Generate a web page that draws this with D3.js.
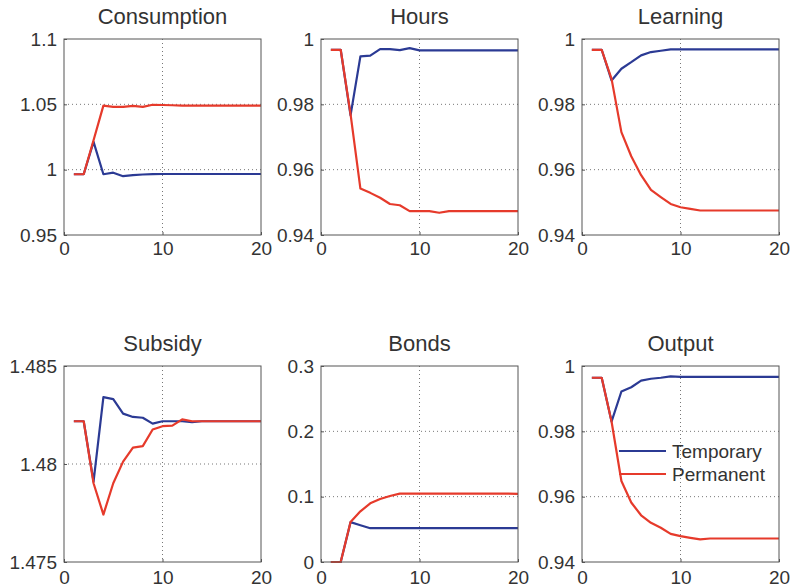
<!DOCTYPE html>
<html>
<head>
<meta charset="utf-8">
<script src="https://cdn.jsdelivr.net/npm/d3@7"></script>
<style>
  html, body { margin: 0; padding: 0; background: #fff; }
  svg { display: block; font-family: "Liberation Sans", Arial, sans-serif; }
</style>
</head>
<body>
<svg id="chart" width="790" height="588"></svg>
<script>
// Periods shown on the horizontal axis
const periods = d3.range(1, 21);
const xTicks = [0, 10, 20];

// Panel titles, in reading order
const titles = ["Consumption", "Hours", "Learning", "Subsidy", "Bonds", "Output"];
const seriesNames = ["Temporary", "Permanent"];

// Vertical ranges and tick labels for each panel
const yDomains = [[0.95, 1.1], [0.94, 1], [0.94, 1], [1.475, 1.485], [0, 0.3], [0.94, 1]];
const yTickValues = [
  [0.95, 1, 1.05, 1.1],
  [0.94, 0.96, 0.98, 1],
  [0.94, 0.96, 0.98, 1],
  [1.475, 1.48, 1.485],
  [0, 0.1, 0.2, 0.3],
  [0.94, 0.96, 0.98, 1]
];
const yTickLabels = [
  ["0.95", "1", "1.05", "1.1"],
  ["0.94", "0.96", "0.98", "1"],
  ["0.94", "0.96", "0.98", "1"],
  ["1.475", "1.48", "1.485"],
  ["0", "0.1", "0.2", "0.3"],
  ["0.94", "0.96", "0.98", "1"]
];

// Responses to a temporary shock, periods 1..20
const consumptionTemp = [0.9965, 0.9965, 1.0213, 0.9965, 0.9977, 0.995, 0.9958, 0.9963, 0.9966, 0.9967, 0.9967, 0.9967, 0.9967, 0.9967, 0.9967, 0.9967, 0.9967, 0.9967, 0.9967, 0.9967];
const hoursTemp = [0.9967, 0.9967, 0.9766, 0.9947, 0.9949, 0.9969, 0.9969, 0.9966, 0.9972, 0.9965, 0.9965, 0.9965, 0.9965, 0.9965, 0.9965, 0.9965, 0.9965, 0.9965, 0.9965, 0.9965];
const learningTemp = [0.9967, 0.9967, 0.9873, 0.9909, 0.9929, 0.995, 0.996, 0.9964, 0.9968, 0.9968, 0.9968, 0.9968, 0.9968, 0.9968, 0.9968, 0.9968, 0.9968, 0.9968, 0.9968, 0.9968];
const subsidyTemp = [1.48218, 1.48218, 1.4791, 1.48341, 1.48331, 1.48257, 1.4824, 1.48236, 1.48206, 1.48218, 1.48218, 1.48218, 1.48214, 1.48218, 1.48218, 1.48218, 1.48218, 1.48218, 1.48218, 1.48218];
const bondsTemp = [0, 0, 0.061, 0.0563, 0.0517, 0.0517, 0.0517, 0.0517, 0.0517, 0.0517, 0.0517, 0.0517, 0.0517, 0.0517, 0.0517, 0.0517, 0.0517, 0.0517, 0.0517, 0.0517];
const outputTemp = [0.9964, 0.9964, 0.983, 0.9922, 0.9935, 0.9955, 0.9961, 0.9964, 0.9968, 0.9967, 0.9967, 0.9967, 0.9967, 0.9967, 0.9967, 0.9967, 0.9967, 0.9967, 0.9967, 0.9967];

// Responses to a permanent shock, periods 1..20
const consumptionPerm = [0.9965, 0.9965, 1.0225, 1.049, 1.048, 1.048, 1.0488, 1.048, 1.0497, 1.0495, 1.0493, 1.049, 1.049, 1.049, 1.049, 1.049, 1.049, 1.049, 1.049, 1.049];
const hoursPerm = [0.9967, 0.9967, 0.977, 0.9542, 0.9529, 0.9514, 0.9495, 0.9491, 0.9473, 0.9473, 0.9473, 0.9468, 0.9473, 0.9473, 0.9473, 0.9473, 0.9473, 0.9473, 0.9473, 0.9473];
const learningPerm = [0.9967, 0.9967, 0.9878, 0.9715, 0.9641, 0.9583, 0.9538, 0.9516, 0.9495, 0.9485, 0.948, 0.9475, 0.9475, 0.9475, 0.9475, 0.9475, 0.9475, 0.9475, 0.9475, 0.9475];
const subsidyPerm = [1.48218, 1.48218, 1.47902, 1.47742, 1.47902, 1.48012, 1.48084, 1.48091, 1.48176, 1.48193, 1.48196, 1.48228, 1.48218, 1.48218, 1.48218, 1.48218, 1.48218, 1.48218, 1.48218, 1.48218];
const bondsPerm = [0, 0, 0.0611, 0.0775, 0.0898, 0.0964, 0.101, 0.1046, 0.1046, 0.1046, 0.1046, 0.1046, 0.1046, 0.1046, 0.1046, 0.1046, 0.1046, 0.1046, 0.1046, 0.1042];
const outputPerm = [0.9964, 0.9964, 0.983, 0.9648, 0.9582, 0.9543, 0.952, 0.9505, 0.9486, 0.9479, 0.9474, 0.9469, 0.9472, 0.9472, 0.9472, 0.9472, 0.9472, 0.9472, 0.9472, 0.9472];

const temporary = [consumptionTemp, hoursTemp, learningTemp, subsidyTemp, bondsTemp, outputTemp];
const permanent = [consumptionPerm, hoursPerm, learningPerm, subsidyPerm, bondsPerm, outputPerm];

// Layout of the 2 x 3 grid of panels
const colLeft = [64, 321, 582];
const rowTop = [39, 366];
const xLabelPad = [7, 9];
const panelW = 197;
const panelH = 196;
const blue = "#2b3a94";
const red = "#e63a2b";
const textColor = "#333";

const svg = d3.select("#chart");

titles.forEach((title, i) => {
  const row = Math.floor(i / 3);
  const left = colLeft[i % 3];
  const top = rowTop[row];
  const g = svg.append("g").attr("transform", `translate(${left},${top})`);

  const x = d3.scaleLinear().domain([0, 20]).range([0, panelW]);
  const y = d3.scaleLinear().domain(yDomains[i]).range([panelH, 0]);

  // Dotted grid at interior ticks
  g.append("g").selectAll("line")
    .data(xTicks.slice(1, -1))
    .join("line")
    .attr("x1", d => x(d)).attr("x2", d => x(d))
    .attr("y1", 0).attr("y2", panelH)
    .attr("stroke", "#777").attr("stroke-width", 1)
    .attr("stroke-dasharray", "1,3");
  g.append("g").selectAll("line")
    .data(yTickValues[i].slice(1, -1))
    .join("line")
    .attr("x1", 0).attr("x2", panelW)
    .attr("y1", d => y(d)).attr("y2", d => y(d))
    .attr("stroke", "#777").attr("stroke-width", 1)
    .attr("stroke-dasharray", "1,3");

  // Axes with inward ticks
  const labels = yTickLabels[i];
  const yAxis = d3.axisLeft(y).tickValues(yTickValues[i])
    .tickFormat((d, k) => labels[k]).tickSizeInner(-3).tickSizeOuter(0).tickPadding(7);
  const xAxis = d3.axisBottom(x).tickValues(xTicks)
    .tickFormat(d3.format("d")).tickSizeInner(-3).tickSizeOuter(0).tickPadding(xLabelPad[row]);

  const ya = g.append("g").call(yAxis);
  const xa = g.append("g").attr("transform", `translate(0,${panelH})`).call(xAxis);
  [ya, xa].forEach(a => {
    a.select(".domain").remove();
    a.selectAll(".tick line").attr("stroke", "#555");
    a.selectAll("text").attr("fill", textColor).style("font-size", "19px")
      .style("font-family", "'Liberation Sans', Arial, sans-serif");
  });

  // Lines
  const line = d3.line().x((d, k) => x(periods[k])).y(d => y(d));
  g.append("path").datum(temporary[i])
    .attr("d", line).attr("fill", "none")
    .attr("stroke", blue).attr("stroke-width", 2.2).attr("stroke-linejoin", "round");
  g.append("path").datum(permanent[i])
    .attr("d", line).attr("fill", "none")
    .attr("stroke", red).attr("stroke-width", 2.2).attr("stroke-linejoin", "round");

  // Box
  g.append("rect").attr("x", 0).attr("y", 0).attr("width", panelW).attr("height", panelH)
    .attr("fill", "none").attr("stroke", "#555").attr("stroke-width", 1);

  // Title
  g.append("text").attr("x", panelW / 2).attr("y", -15)
    .attr("text-anchor", "middle").attr("fill", textColor)
    .style("font-size", "22px").text(title);

  // Legend inside the last panel
  if (i === 5) {
    const lg = g.append("g").attr("transform", `translate(37,85)`);
    [blue, red].forEach((c, k) => {
      lg.append("line").attr("x1", 0).attr("x2", 47)
        .attr("y1", k * 23).attr("y2", k * 23)
        .attr("stroke", c).attr("stroke-width", 2.2);
      lg.append("text").attr("x", 53).attr("y", k * 23 + 6.5)
        .attr("fill", textColor).style("font-size", "19px")
        .text(seriesNames[k]);
    });
  }
});
</script>
</body>
</html>
